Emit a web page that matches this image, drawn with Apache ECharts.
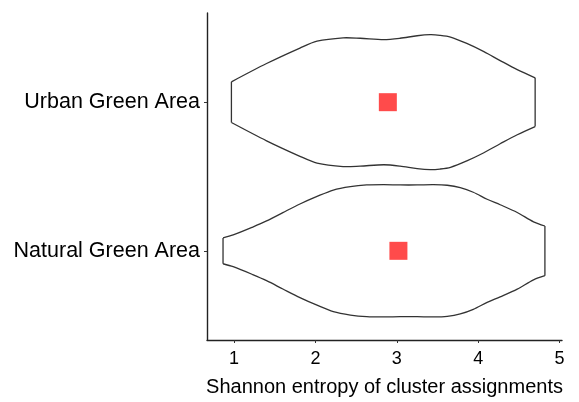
<!DOCTYPE html>
<html>
	<head>
		<meta charset="utf-8">
		<title>violin</title>
		<script src="https://cdn.jsdelivr.net/npm/echarts@6/dist/echarts.min.js"></script>
	</head>
	<body style="margin:0;">
		<div id="main" style="width: 579px; height: 402px;"></div>
		<script>
			// categories, bottom to top
			var groups = ['Natural Green Area', 'Urban Green Area'];
			// density outline: entropy values and half widths (in category units)
			var naturalX = [0.865, 0.99, 1.23, 1.40, 1.60, 1.81, 2.02, 2.22, 2.43, 2.63, 2.84, 3.04, 3.25, 3.45, 3.62, 3.78, 3.94, 4.11, 4.27, 4.48, 4.68, 4.82];
			var naturalW = [0.087, 0.107, 0.16, 0.201, 0.257, 0.315, 0.366, 0.409, 0.432, 0.443, 0.445, 0.443, 0.443, 0.445, 0.441, 0.425, 0.394, 0.347, 0.31, 0.258, 0.195, 0.167];
			var urbanX = [0.968, 1.40, 1.81, 2.02, 2.34, 2.55, 2.84, 3.04, 3.25, 3.41, 3.53, 3.66, 3.86, 4.07, 4.27, 4.48, 4.70];
			var urbanW = [0.137, 0.26, 0.364, 0.41, 0.433, 0.43, 0.421, 0.43, 0.447, 0.454, 0.45, 0.438, 0.395, 0.34, 0.28, 0.219, 0.164];
			// mean entropy per group
			var means = [3.02, 2.89];
			var xTicks = [1, 2, 3, 4, 5];

			var outlines = [[naturalX, naturalW], [urbanX, urbanW]];

			var renderViolin = function (params, api) {
				var idx = api.value(0);
				var xs = outlines[idx][0], ws = outlines[idx][1];
				var pos = idx + 1;
				var top = [], bottom = [];
				for (var i = 0; i < xs.length; i++) {
					top.push(api.coord([xs[i], pos + ws[i]]));
					bottom.push(api.coord([xs[i], pos - ws[i]]));
				}
				var n = xs.length - 1;
				var st = { stroke: '#333', lineWidth: 1.3, fill: null };
				return {
					type: 'group',
					children: [
						{ type: 'polyline', shape: { points: top, smooth: 0.3 }, style: st },
						{ type: 'polyline', shape: { points: bottom, smooth: 0.3 }, style: st },
						{ type: 'line', shape: { x1: top[0][0], y1: top[0][1], x2: bottom[0][0], y2: bottom[0][1] }, style: st },
						{ type: 'line', shape: { x1: top[n][0], y1: top[n][1], x2: bottom[n][0], y2: bottom[n][1] }, style: st }
					]
				};
			};

			var mychart = echarts.init(document.getElementById('main'));
			var option = {
				backgroundColor: '#fff',
				animation: false,
				textStyle: { fontFamily: 'Liberation Sans' },
				grid: { left: 207, right: 17, top: 13, bottom: 60, containLabel: false },
				xAxis: {
					type: 'value',
					min: 0.668,
					max: 5.03,
					name: 'Shannon entropy of cluster assignments',
					nameLocation: 'middle',
					nameGap: 37,
					nameTextStyle: { color: '#000', fontSize: 20 },
					axisLine: { lineStyle: { color: '#222', width: 1.4 } },
					axisTick: { show: true, length: 3, customValues: xTicks, lineStyle: { color: '#333' } },
					axisLabel: { customValues: xTicks, color: '#000', fontSize: 18, margin: 10 },
					splitLine: { show: false }
				},
				yAxis: {
					type: 'value',
					min: 0.4,
					max: 2.6,
					axisLine: { show: true, lineStyle: { color: '#222', width: 1.4 } },
					axisTick: { show: true, length: 3, customValues: [1, 2], lineStyle: { color: '#333' } },
					axisLabel: {
						customValues: [1, 2],
						color: '#000',
						fontSize: 21.5,
						margin: 7,
						formatter: function (v) { return groups[Math.round(v) - 1]; }
					},
					splitLine: { show: false }
				},
				series: [
					{
						type: 'custom',
						renderItem: renderViolin,
						data: [[0], [1]],
						encode: { x: -1, y: -1 }
					},
					{
						type: 'scatter',
						symbol: 'rect',
						symbolSize: 18,
						itemStyle: { color: '#ff4b4b', opacity: 1 },
						data: means.map(function (m, i) { return [m, i + 1]; }),
						z: 5
					}
				]
			};
			mychart.setOption(option);
		</script>
	</body>
</html>
